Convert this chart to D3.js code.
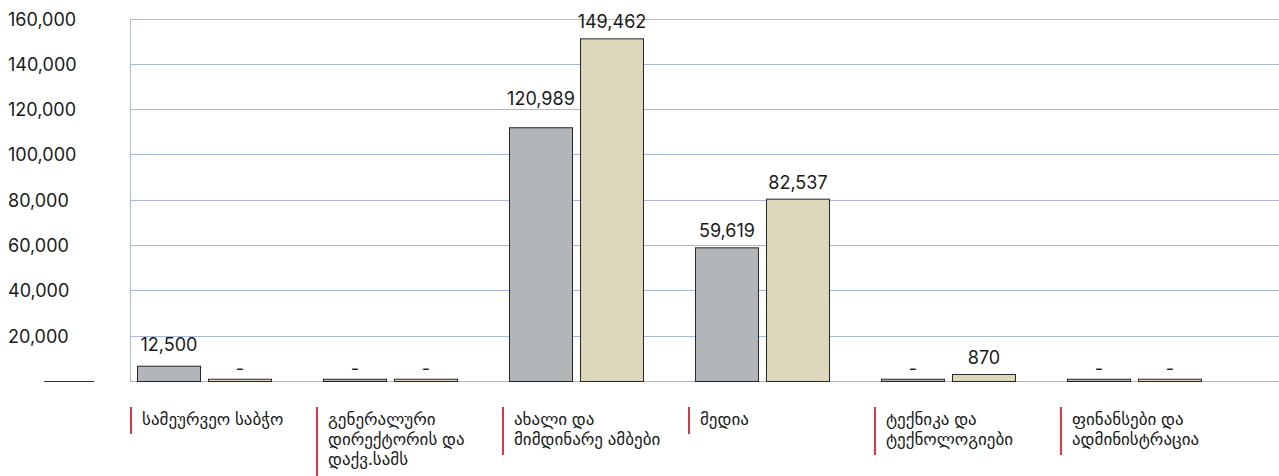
<!DOCTYPE html>
<html lang="ka">
<head>
<meta charset="utf-8">
<title>Budget by department</title>
<script src="https://cdn.jsdelivr.net/npm/d3@7"></script>
<style>
  html, body { margin: 0; padding: 0; background: #fff; }
  svg { display: block; font-family: Inter, "DejaVu Sans", sans-serif; }
  .grid line { stroke: #a9b8dd; stroke-width: 1; }
  .tick-lbl { font-size: 18px; fill: #1a1a1a; }
  .val-lbl  { font-size: 18px; fill: #1a1a1a; text-anchor: middle; }
  .cat-lbl  { font-size: 17px; fill: #1a1a1a; }
</style>
</head>
<body>
<svg id="chart" width="1279" height="476"></svg>
<script>
/* ── Data ──────────────────────────────────────────────────── */
const categories = [
  ["სამეურვეო საბჭო"],
  ["გენერალური", "დირექტორის და", "დაქვ.სამს"],
  ["ახალი და", "მიმდინარე ამბები"],
  ["მედია"],
  ["ტექნიკა და", "ტექნოლოგიები"],
  ["ფინანსები და", "ადმინისტრაცია"]
];

/* bar heights as drawn in the picture */
const greyBars  = [6750, 1000, 112000, 59000, 1000, 1000];
const beigeBars = [1000, 1000, 151250, 80470, 3100, 1000];

/* printed value labels ("-" = no value) */
const greyLabels  = ["12,500", "-", "120,989", "59,619", "-", "-"];
const beigeLabels = ["-", "-", "149,462", "82,537", "870", "-"];
const greyLabelValues  = [12500, 0, 120989, 59619, 0, 0];
const beigeLabelValues = [0, 0, 149462, 82537, 870, 0];

const yTicks = [0, 20000, 40000, 60000, 80000, 100000, 120000, 140000, 160000];

(function () {
  const svg = d3.select("#chart");

  const PLOT_L = 130, PLOT_R = 1279;
  const y = d3.scaleLinear().domain([0, 160000]).range([381, 18.5]);
  const x = d3.scaleBand()
    .domain(d3.range(categories.length))
    .range([137, 1202])
    .paddingInner(0.274)
    .paddingOuter(0);
  const BAR_W = 64, BAR_GAP = 7;

  /* ── Grid ─────────────────────────────────────────────────── */
  const grid = svg.append("g").attr("class", "grid");
  grid.selectAll("line.h")
    .data(yTicks)
    .join("line")
    .attr("class", "h")
    .attr("x1", PLOT_L).attr("x2", PLOT_R)
    .attr("y1", d => Math.round(y(d)) + 0.5)
    .attr("y2", d => Math.round(y(d)) + 0.5);
  grid.append("line")
    .attr("x1", PLOT_L + 0.5).attr("x2", PLOT_L + 0.5)
    .attr("y1", Math.round(y(160000)) + 0.5).attr("y2", Math.round(y(0)) + 0.5);

  /* ── Y tick labels (zero shows as a dash line) ────────────── */
  svg.selectAll("text.tick-lbl")
    .data(yTicks.filter(d => d > 0))
    .join("text")
    .attr("class", "tick-lbl")
    .attr("x", 8)
    .attr("y", d => y(d) + 7)
    .text(d3.format(","));
  svg.append("line")
    .attr("x1", 44).attr("x2", 94)
    .attr("y1", Math.round(y(0)) + 0.5).attr("y2", Math.round(y(0)) + 0.5)
    .attr("stroke", "#333").attr("stroke-width", 1);

  /* ── Bars ─────────────────────────────────────────────────── */
  const series = [
    { bars: greyBars,  labels: greyLabels,  lv: greyLabelValues,  fill: "#b2b6b9", off: 0 },
    { bars: beigeBars, labels: beigeLabels, lv: beigeLabelValues, fill: "#ddd8bb", off: BAR_W + BAR_GAP }
  ];

  series.forEach(s => {
    const g = svg.append("g");
    g.selectAll("rect")
      .data(s.bars)
      .join("rect")
      .attr("x", (d, i) => x(i) + s.off + 0.5)
      .attr("y", d => y(d) + 0.5)
      .attr("width", BAR_W - 1)
      .attr("height", d => y(0) - y(d))
      .attr("fill", s.fill)
      .attr("stroke", "#262626")
      .attr("stroke-width", 1);

    g.selectAll("text")
      .data(s.labels)
      .join("text")
      .attr("class", "val-lbl")
      .attr("x", (d, i) => x(i) + s.off + BAR_W / 2)
      .attr("y", (d, i) => {
        const top = y(s.bars[i]);
        if (d === "-") return top - 4;
        return Math.min(y(s.lv[i]), top - 8) - 2;
      })
      .text(d => d);
  });

  /* ── Category labels with red markers ─────────────────────── */
  const LINE_H = 20;
  const cats = svg.append("g")
    .selectAll("g")
    .data(categories)
    .join("g")
    .attr("transform", (d, i) => `translate(${x(i) - 6},0)`);

  cats.append("rect")
    .attr("x", -1).attr("y", 407)
    .attr("width", 2)
    .attr("height", d => 6 + 21 * d.length)
    .attr("fill", "#d33a41");

  cats.append("text")
    .attr("class", "cat-lbl")
    .attr("y", 425)
    .selectAll("tspan")
    .data(d => d)
    .join("tspan")
    .attr("x", 11)
    .attr("dy", (d, i) => i === 0 ? 0 : LINE_H)
    .text(d => d);
})();
</script>
</body>
</html>
